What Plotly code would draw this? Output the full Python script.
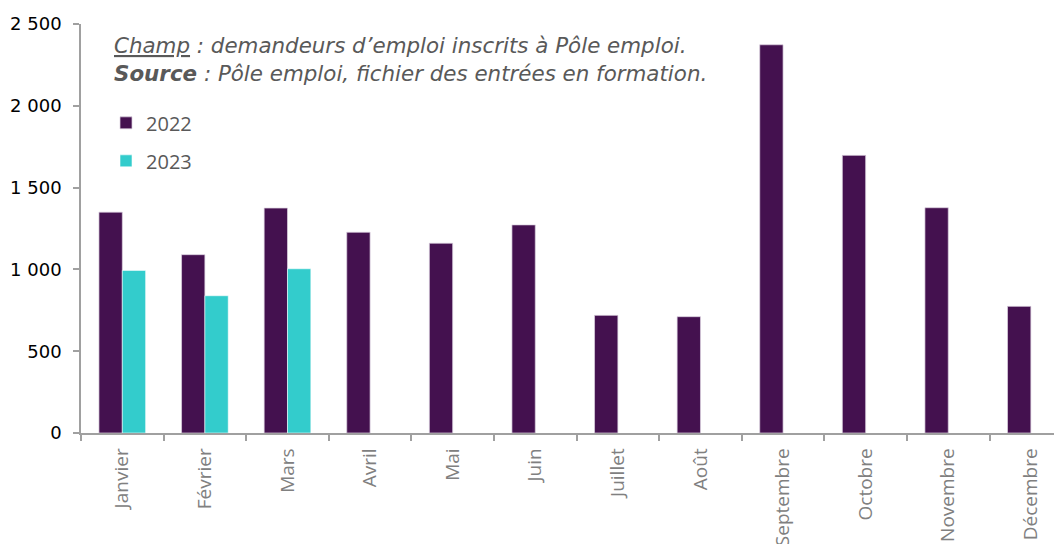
import plotly.graph_objects as go

months = ["Janvier", "Février", "Mars", "Avril", "Mai", "Juin", "Juillet",
          "Août", "Septembre", "Octobre", "Novembre", "Décembre"]
values_2022 = [1350, 1090, 1375, 1227, 1160, 1272, 719, 711, 2373, 1697, 1377, 774]
values_2023 = [994, 839, 1004, None, None, None, None, None, None, None, None, None]
y_tickvals = [0, 500, 1000, 1500, 2000, 2500]
y_ticktext = ["0", "500", "1 000", "1 500", "2 000", "2 500"]

fig = go.Figure()
fig.add_trace(go.Bar(
    x=months, y=values_2022, name="2022", legendgroup="a",
    marker=dict(color="#44114F", line=dict(color="rgba(220,210,225,0.9)", width=0.8)),
))
fig.add_trace(go.Bar(
    x=months, y=values_2023, name="2023", legendgroup="b",
    marker=dict(color="#33CCCC", line=dict(color="rgba(255,255,255,0.7)", width=0.8)),
))

# page body has an 8px margin, so the figure is sized/offset to compensate
fig.update_layout(
    width=1054, height=536,
    margin=dict(l=73, r=0, t=16, b=111),
    paper_bgcolor="white", plot_bgcolor="white",
    barmode="group", bargap=0.435, bargroupgap=0,
    showlegend=True,
    legend=dict(
        x=0.0255, y=0.806, xanchor="left", yanchor="top",
        font=dict(family="Open Sans", size=20, color="#595959"),
        bgcolor="rgba(0,0,0,0)", tracegroupgap=9,
    ),
    annotations=[dict(
        xref="paper", yref="paper", x=0.0316, y=0.983,
        xanchor="left", yanchor="top", align="left", showarrow=False,
        text="<i><u>Champ</u> : demandeurs d’emploi inscrits à Pôle emploi.<br>"
             "<b>Source</b> : Pôle emploi, fichier des entrées en formation.</i>",
        font=dict(family="DejaVu Sans", size=21.4, color="#595959"),
    )],
)

fig.update_xaxes(
    type="category", range=[-0.5, 11.377],
    showline=True, linecolor="#A0A0A0", linewidth=1.5,
    ticks="outside", tickson="boundaries", ticklen=6, tickcolor="#A0A0A0", tickwidth=1.5,
    tickangle=-90, automargin=False, ticklabelstandoff=6,
    tickfont=dict(family="Open Sans", size=19, color="#808080"),
    showgrid=False, zeroline=False,
)
fig.update_yaxes(
    range=[0, 2500], tickvals=y_tickvals, ticktext=y_ticktext,
    showline=True, linecolor="#A0A0A0", linewidth=1.5,
    ticks="outside", ticklen=6, tickcolor="#A0A0A0", tickwidth=1.5,
    ticklabelstandoff=8,
    tickfont=dict(family="DejaVu Sans", size=18, color="#000000"),
    showgrid=False, zeroline=False, automargin=False,
)

fig.write_html("out.html")
